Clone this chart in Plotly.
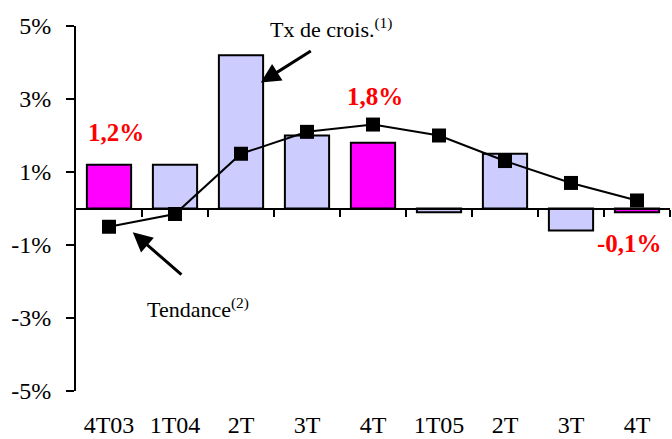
import plotly.graph_objects as go

categories = ["4T03", "1T04", "2T", "3T", "4T", "1T05", "2T", "3T", "4T"]
growth = [1.2, 1.2, 4.2, 2.0, 1.8, -0.1, 1.5, -0.6, -0.1]
trend = [-0.5, -0.15, 1.5, 2.1, 2.3, 2.0, 1.3, 0.7, 0.22]
highlight = [True, False, False, False, True, False, False, False, True]
ytick_vals = [-5, -3, -1, 1, 3, 5]
ytick_text = ["-5%", "-3%", "-1%", "1%", "3%", "5%"]
value_labels = [(0, "1,2%"), (4, "1,8%"), (8, "-0,1%")]

FONT = "Liberation Serif"
x = list(range(len(categories)))
colors = ["#FF00FF" if h else "#CCCCFF" for h in highlight]

fig = go.Figure()
fig.add_trace(go.Bar(x=x, y=growth, width=0.67, marker=dict(color=colors, line=dict(color="black", width=2)),
                     showlegend=False, hoverinfo="skip"))
fig.add_trace(go.Scatter(x=x, y=trend, mode="lines+markers",
                         line=dict(color="black", width=2),
                         marker=dict(symbol="square", size=14, color="black"),
                         showlegend=False))
# invisible trace for zero-line axis
fig.add_trace(go.Scatter(x=[x[0]], y=[0], xaxis="x2", mode="markers", marker=dict(opacity=0),
                         showlegend=False, hoverinfo="skip"))

# value labels
label_pos = {0: (0.1, 2.08), 4: (4.03, 3.07), 8: (7.88, -0.95)}
for i, txt in value_labels:
    lx, ly = label_pos[i]
    fig.add_annotation(x=lx, y=ly, text="<b>" + txt + "</b>", showarrow=False,
                       font=dict(family=FONT, size=25, color="#FF0000"))

# arrows
fig.add_annotation(x=2.30, y=3.45, ax=3.08, ay=4.34, axref="x", ayref="y", xref="x", yref="y",
                   text="", showarrow=True, arrowhead=2, arrowsize=1.3, arrowwidth=3, arrowcolor="black")
fig.add_annotation(x=0.36, y=-0.65, ax=1.12, ay=-1.85, axref="x", ayref="y", xref="x", yref="y",
                   text="", showarrow=True, arrowhead=2, arrowsize=1.3, arrowwidth=3, arrowcolor="black")
fig.add_annotation(x=3.36, y=4.95, text="Tx de crois.<sup>(1)</sup>", showarrow=False,
                   font=dict(family=FONT, size=22, color="black"))
fig.add_annotation(x=1.35, y=-2.72, text="Tendance<sup>(2)</sup>", showarrow=False,
                   font=dict(family=FONT, size=22, color="black"))

fig.update_layout(
    width=672, height=439,
    margin=dict(l=76, r=2, t=26, b=48, pad=0),
    plot_bgcolor="white", paper_bgcolor="white",
    xaxis=dict(range=[-0.5, 8.5], tickvals=x, ticktext=categories, showline=False, showgrid=False,
               zeroline=False, ticks="outside", ticklen=12, tickcolor="rgba(0,0,0,0)", automargin=False,
               tickfont=dict(family=FONT, size=24, color="black")),
    xaxis2=dict(range=[-0.5, 8.5], overlaying="x", anchor="free", position=0.5, side="bottom",
                tickvals=[i + 0.5 for i in x], showticklabels=False, ticks="outside", ticklen=7,
                tickwidth=2, tickcolor="black", showline=True, linewidth=2, linecolor="black",
                showgrid=False, zeroline=False, automargin=False),
    yaxis=dict(range=[-5, 5], tickvals=ytick_vals, ticktext=ytick_text, showline=True, linewidth=2,
               linecolor="black", ticks="outside", ticklen=8, tickwidth=2, tickcolor="black",
               showgrid=False, zeroline=False, automargin=False, ticklabelstandoff=10,
               tickfont=dict(family=FONT, size=24, color="black")),
)

fig.write_html("out.html", config={"displayModeBar": False},
               post_script="document.body.style.margin='0';document.body.style.overflow='hidden';")
